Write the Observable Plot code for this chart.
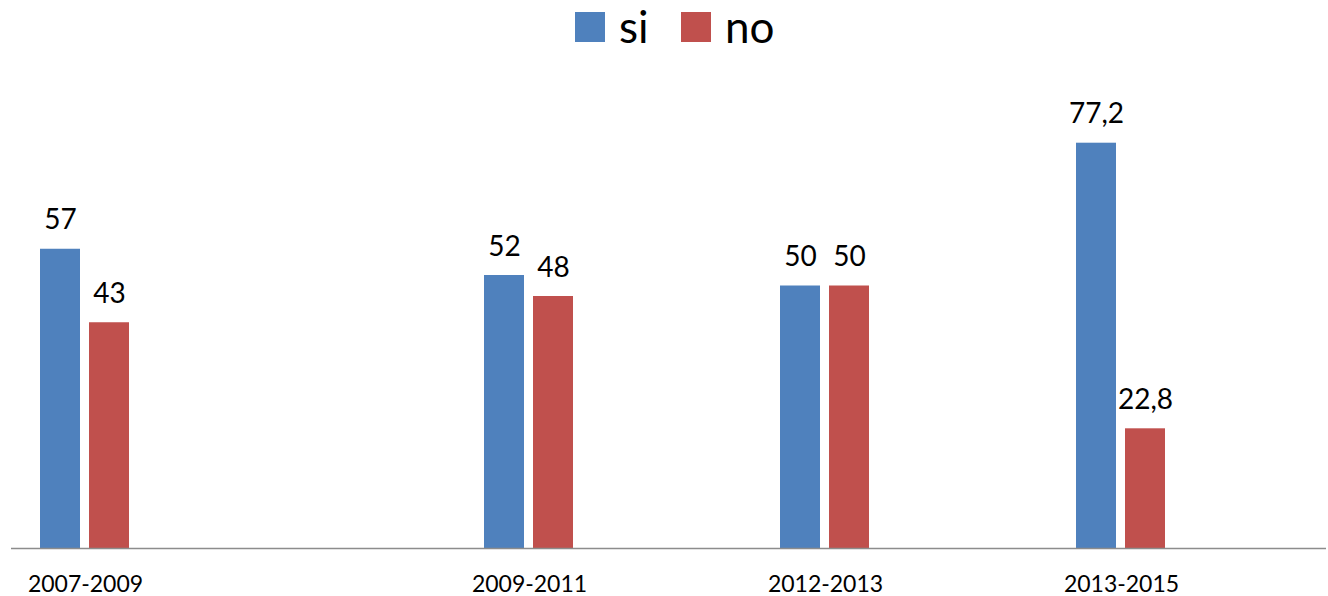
<!DOCTYPE html>
<html>
<head>
<meta charset="utf-8">
<script src="https://cdn.jsdelivr.net/npm/d3@7"></script>
<script src="https://cdn.jsdelivr.net/npm/@observablehq/plot@0.6"></script>
<style>
  html, body { margin: 0; padding: 0; background: #fff; }
  #legend { position: relative; height: 56px; width: 1328px; font-family: Lato, sans-serif; }
  #legend .sw { position: absolute; top: 12px; width: 30px; height: 30px; }
  #legend .lb { position: absolute; top: 0px; font-size: 44px; line-height: 1.2; color: #000; white-space: nowrap; }
</style>
</head>
<body>
<div id="legend"></div>
<div id="chart"></div>
<script>
// Data
const periods = ["2007-2009", "2009-2011", "2012-2013", "2013-2015"];
const siValues = [57, 52, 50, 77.2];
const noValues = [43, 48, 50, 22.8];
const seriesNames = ["si", "no"];
const seriesColors = ["#4F81BD", "#C0504D"];
// Category slots of the (year-based) axis; blanks are empty years
const slots = ["2007-2009", "_2008", "_2009", "2009-2011", "_2011", "2012-2013", "_2013", "2013-2015", "_2015"];

const siData = periods.map((p, i) => ({period: p, value: siValues[i]}));
const noData = periods.map((p, i) => ({period: p, value: noValues[i]}));
const fmt = d => String(d).replace(".", ",");

// Legend
const legend = document.getElementById("legend");
const legendPos = [{sw: 575, lb: 619}, {sw: 681, lb: 725}];
seriesNames.forEach((name, i) => {
  const sw = document.createElement("div");
  sw.className = "sw";
  sw.style.left = legendPos[i].sw + "px";
  sw.style.background = seriesColors[i];
  const lb = document.createElement("div");
  lb.className = "lb";
  lb.style.left = legendPos[i].lb + "px";
  lb.textContent = name;
  legend.appendChild(sw);
  legend.appendChild(lb);
});

const chart = Plot.plot({
  width: 1328,
  height: 540,
  marginTop: 72,
  marginBottom: 48,
  marginLeft: 11,
  marginRight: 2,
  style: {fontFamily: "Lato, sans-serif", background: "white", color: "black"},
  x: {domain: slots, range: [11, 1343], padding: 0, label: null},
  y: {domain: [0, 80], axis: null},
  marks: [
    Plot.barY(siData, {x: "period", y: "value", fill: seriesColors[0], insetLeft: 29, insetRight: 79}),
    Plot.barY(noData, {x: "period", y: "value", fill: seriesColors[1], insetLeft: 78, insetRight: 30}),
    Plot.ruleY([0], {stroke: "#8c8c8c", strokeWidth: 1.5}),
    Plot.text(siData, {x: "period", y: "value", text: d => fmt(d.value), dx: -25, dy: -20, lineAnchor: "bottom", fontSize: 28, fill: "black"}),
    Plot.text(noData, {x: "period", y: "value", text: d => fmt(d.value), dx: 24, dy: -20, lineAnchor: "bottom", fontSize: 28, fill: "black"}),
    Plot.axisX({ticks: periods, tickSize: 0, tickPadding: 27, fontSize: 23, fill: "black", label: null})
  ]
});
document.getElementById("chart").appendChild(chart);
</script>
</body>
</html>
